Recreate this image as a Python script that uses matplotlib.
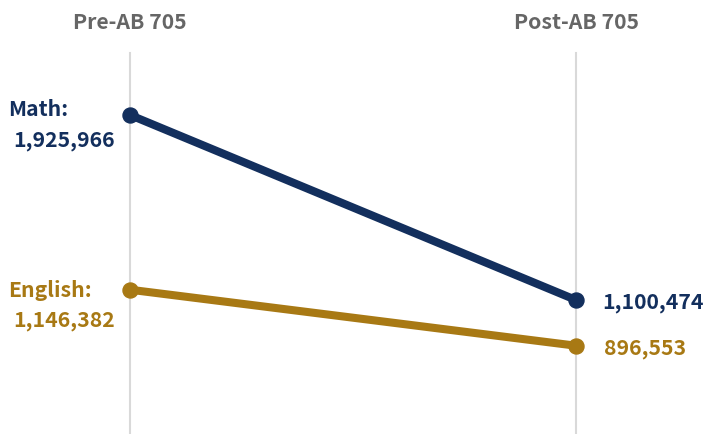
import matplotlib
matplotlib.use("Agg")
import matplotlib.pyplot as plt
from matplotlib.font_manager import FontProperties

periods = ["Pre-AB 705", "Post-AB 705"]
series = ["Math", "English"]
math_vals = [1925966, 1100474]
english_vals = [1146382, 896553]

NAVY = "#132f5d"
GOLD = "#a87914"
GRID = "#d9d9d9"
HEAD = "#666666"
FONT = ["Noto Sans CJK SC", "DejaVu Sans"]
FP = FontProperties(family=FONT, weight="bold", size=15.3)

fig = plt.figure(figsize=(7.04, 4.34), dpi=100)
ax = fig.add_axes([0, 0, 1, 1])
ax.set_xlim(-130 / 446, 574 / 446)
ax.set_ylim(502588, 2439100)
ax.axis("off")

xs = [0, 1]
for x in xs:
    ax.axvline(x, ymin=0, ymax=1 - 53 / 434, color=GRID, lw=1.5, zorder=1)

for vals, col in [(math_vals, NAVY), (english_vals, GOLD)]:
    ax.plot(xs, vals, color=col, lw=5.8, marker="o", markersize=10.8,
            solid_capstyle="round", zorder=3)

def fmt(v):
    return f"{v:,}"

# headers
for x, p in zip(xs, periods):
    ax.annotate(p, xy=(x, 0), xycoords=("data", "axes fraction"),
                xytext=(0, 434 - 29), textcoords="offset pixels",
                ha="center", va="baseline", fontproperties=FP, color=HEAD)

# value labels
def lab(text, xy, dx, dy, col):
    ax.annotate(text, xy=xy, xytext=(dx, dy), textcoords="offset pixels",
                ha="left", va="baseline", fontproperties=FP, color=col)

lab(series[0] + ":", (0, math_vals[0]), -122, -1, NAVY)
lab(fmt(math_vals[0]), (0, math_vals[0]), -117, -31, NAVY)
lab(series[1] + ":", (0, english_vals[0]), -122, -7, GOLD)
lab(fmt(english_vals[0]), (0, english_vals[0]), -117, -37, GOLD)
lab(fmt(math_vals[1]), (1, math_vals[1]), 26, -8, NAVY)
lab(fmt(english_vals[1]), (1, english_vals[1]), 28, -9, GOLD)

fig.savefig("out.png", dpi=100)
